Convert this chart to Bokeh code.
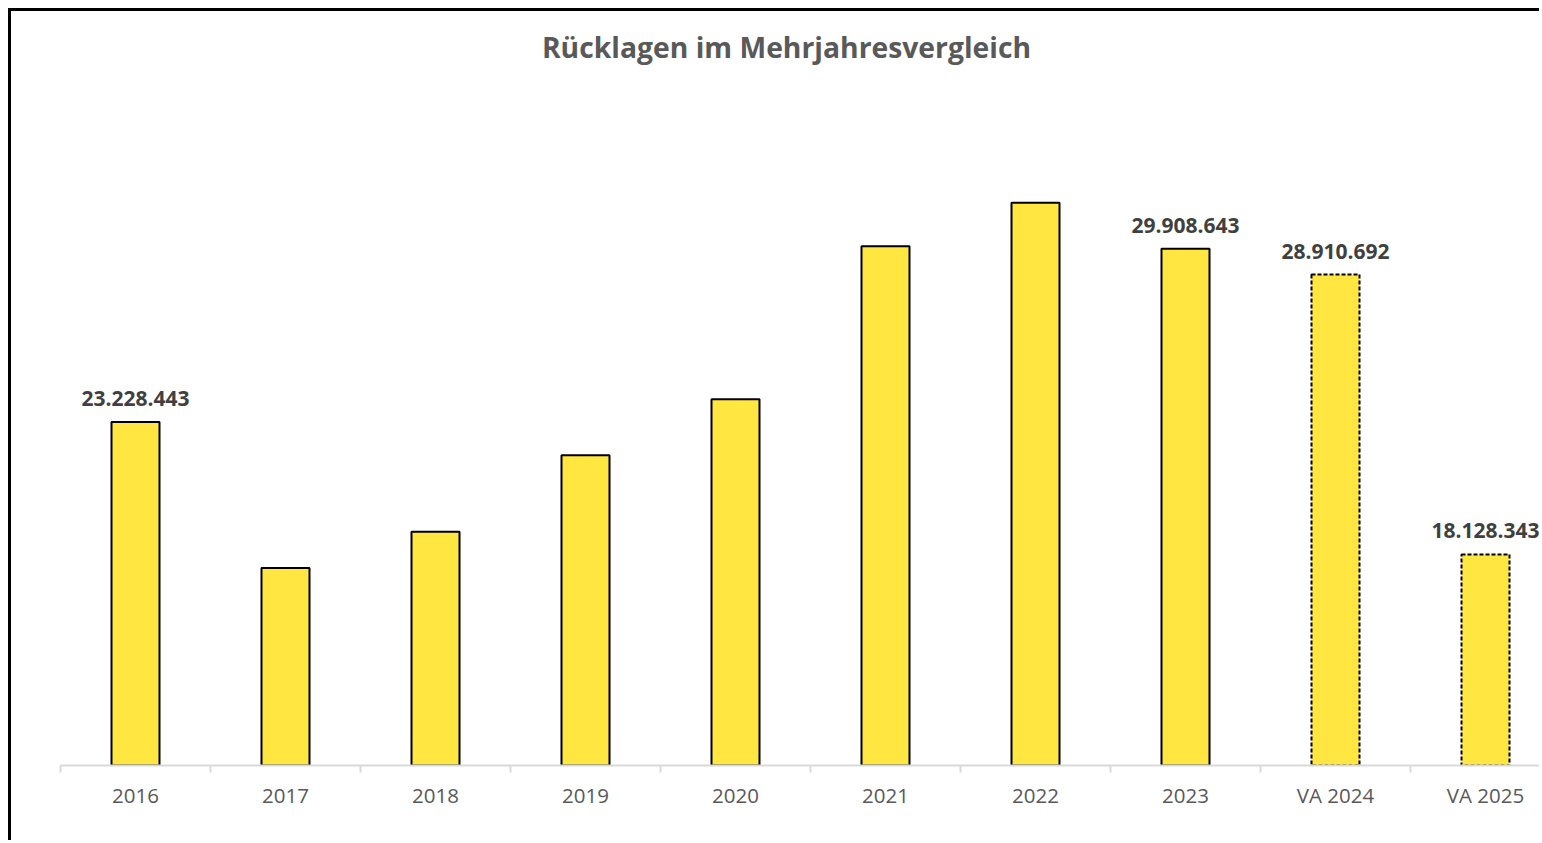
from bokeh.plotting import figure
from bokeh.models import ColumnDataSource, FixedTicker, CustomJSTickFormatter, LabelSet, Label, Range1d
from bokeh.core.properties import value
from bokeh.embed import file_html
from bokeh.resources import INLINE

# ---- data ----
categories = ["2016", "2017", "2018", "2019", "2020", "2021", "2022", "2023", "VA 2024", "VA 2025"]
values = [23228443, 17610000, 19000000, 21950000, 24110000, 30000000, 31680000, 29908643, 28910692, 18128343]
labeled = ["2016", "2023", "VA 2024", "VA 2025"]
title_text = "Rücklagen im Mehrjahresvergleich"

# ---- derived ----
xs = [i + 0.5 for i in range(len(categories))]
def fmt(v):
    return f"{v:,}".replace(",", ".")

actual = dict(x=[], top=[])
planned = dict(x=[], top=[])
for c, x, v in zip(categories, xs, values):
    d = planned if c.startswith("VA") else actual
    d["x"].append(x); d["top"].append(v)

lab = dict(x=[], y=[], text=[])
for c, x, v in zip(categories, xs, values):
    if c in labeled:
        lab["x"].append(x); lab["y"].append(v); lab["text"].append(fmt(v))

# layout geometry (pixels)
W, H = 1531, 832
BOTTOM = 78
frame_h = H - BOTTOM            # plot frame spans from canvas top to axis
y0, y_scale_top, scale_px = 10_000_000, 35_000_000, 649   # 10M..35M over 649 px
y_end = y0 + (y_scale_top - y0) * frame_h / scale_px

p = figure(width=W, height=H, output_backend="svg", toolbar_location=None,
           x_range=Range1d(0, 9.88), y_range=Range1d(y0, y_end),
           min_border_left=49, min_border_right=0, min_border_top=0, min_border_bottom=BOTTOM,
           styles={"border-left": "3px solid black", "border-top": "3px solid black",
                   "margin-left": "8px", "margin-top": "8px"})
p.outline_line_color = None
p.background_fill_color = "white"
p.border_fill_color = "white"
p.xgrid.visible = False
p.ygrid.visible = False
p.yaxis.visible = False

# title placed 35px below the top of the canvas, centred on the chart
title_y = y0 + (y_scale_top - y0) * (frame_h - 35) / scale_px
p.add_layout(Label(x=4.84, y=title_y, text=title_text,
                   text_align="center", text_baseline="middle",
                   text_font="Open Sans", text_font_size="28.3px", text_font_style="bold",
                   text_color="#595959"))

fill = "#FFE640"
p.vbar(x="x", top="top", bottom=y0, width=0.32, source=ColumnDataSource(actual),
       fill_color=fill, line_color="black", line_width=2)
p.vbar(x="x", top="top", bottom=y0, width=0.32, source=ColumnDataSource(planned),
       fill_color=fill, line_color="black", line_width=2, line_dash="4 2")

labels = LabelSet(x="x", y="y", text="text", source=ColumnDataSource(lab),
                  text_align="center", text_baseline="bottom", y_offset=16,
                  text_font=value("Open Sans"), text_font_size=value("21px"),
                  text_font_style=value("bold"), text_color=value("#404040"))
p.add_layout(labels)

ax = p.xaxis[0]
ax.ticker = FixedTicker(ticks=xs, minor_ticks=list(range(len(categories) + 1)))
ax.formatter = CustomJSTickFormatter(args=dict(labels=categories),
                                     code="return labels[Math.floor(tick)];")
ax.axis_line_color = "#d9d9d9"
ax.axis_line_width = 2
ax.major_tick_line_color = None
ax.major_tick_out = 0
ax.major_tick_in = 0
ax.minor_tick_line_color = "#d9d9d9"
ax.minor_tick_line_width = 2
ax.minor_tick_out = 7
ax.minor_tick_in = 0
ax.major_label_standoff = 8
ax.major_label_text_font = "Open Sans"
ax.major_label_text_font_size = "20.5px"
ax.major_label_text_color = "#595959"

open("out.html", "w").write(file_html(p, INLINE))
